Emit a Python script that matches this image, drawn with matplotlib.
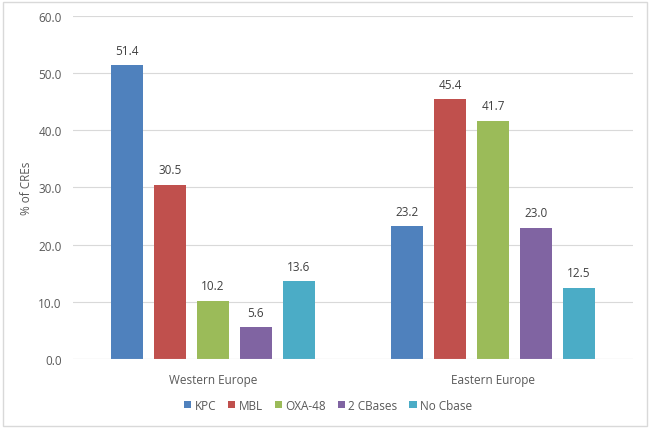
import numpy as np
import matplotlib
matplotlib.use("Agg")
import matplotlib.pyplot as plt
from matplotlib.patches import Rectangle, Patch

regions = ["Western Europe", "Eastern Europe"]
series = ["KPC", "MBL", "OXA-48", "2 CBases", "No Cbase"]
values = {
    "KPC": [51.4, 23.2],
    "MBL": [30.5, 45.4],
    "OXA-48": [10.2, 41.7],
    "2 CBases": [5.6, 23.0],
    "No Cbase": [13.6, 12.5],
}
colors = ["#4F81BD", "#C0504D", "#9BBB59", "#8064A2", "#4BACC6"]

TXT = "#595959"
FS = 8.5
plt.rcParams["font.family"] = ["Open Sans", "DejaVu Sans"]

fig = plt.figure(figsize=(6.5, 4.31), dpi=100)
ax = fig.add_axes([0.1123, 0.1647, 0.8615, 0.7959])

x = np.arange(len(regions))
width = 0.115
pitch = 0.153
for i, (name, col) in enumerate(zip(series, colors)):
    pos = x + (i - 2) * pitch
    bars = ax.bar(pos, values[name], width, color=col, zorder=3)
    for b, v in zip(bars, values[name]):
        ax.annotate(f"{v:.1f}", (b.get_x() + b.get_width() / 2, v),
                    xytext=(0, 6), textcoords="offset points",
                    ha="center", va="bottom", fontsize=FS, color="#404040")

ax.set_xlim(-0.5, 1.5)
ax.set_ylim(0, 60)
ax.set_yticks(np.arange(0, 61, 10))
ax.set_yticklabels([f"{t:.1f}" for t in np.arange(0, 61, 10)])
ax.set_xticks(x)
ax.set_xticklabels(regions)
ax.grid(axis="y", color="#D9D9D9", linewidth=0.8, zorder=0)
for s in ax.spines.values():
    s.set_visible(False)
ax.axhline(0, color="#D9D9D9", linewidth=0.8, zorder=4)
ax.tick_params(axis="both", length=0, colors=TXT, labelsize=FS)
ax.tick_params(axis="y", pad=8)
ax.tick_params(axis="x", pad=10)
ax.set_ylabel("% of CREs", color=TXT, fontsize=FS, labelpad=4)

handles = [Patch(facecolor=c, label=n) for n, c in zip(series, colors)]
fig.legend(handles=handles, loc="center", bbox_to_anchor=(0.505, 0.058), ncol=5,
           frameon=False, fontsize=FS, handlelength=0.6, handleheight=0.6,
           handletextpad=0.3, columnspacing=1.0, labelcolor=TXT)

fig.patches.append(Rectangle((3 / 650, 4 / 431), 644 / 650, 424 / 431,
                             transform=fig.transFigure, fill=False,
                             edgecolor="#D9D9D9", linewidth=1))

fig.savefig("out.png", dpi=100)
